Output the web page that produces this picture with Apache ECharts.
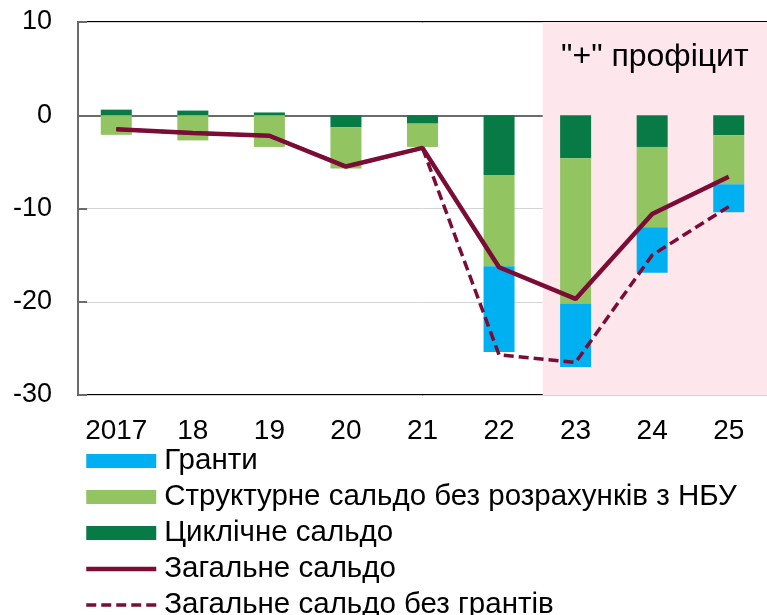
<!DOCTYPE html>
<html>
	<head>
		<meta charset="utf-8">
		<title>Сальдо бюджету</title>
		<script src="https://cdn.jsdelivr.net/npm/echarts@6/dist/echarts.min.js"></script>
	</head>
	<style type="text/css">
		body { margin: 0; background: #fff; }
		#main { width: 767px; height: 615px; }
	</style>
	<body>
		<div id="main"></div>
		<script type="text/javascript">
			// дані
			var years = ['2017', '18', '19', '20', '21', '22', '23', '24', '25'];
			var grants = [0, 0, 0, 0, 0, -9.2, -6.8, -4.9, -3.0];
			var structural = [-2.1, -2.7, -3.4, -4.4, -2.5, -9.8, -15.6, -8.6, -5.25];
			var cyclical = [0.6, 0.5, 0.3, -1.3, -0.9, -6.4, -4.6, -3.4, -2.15];
			var total = [-1.5, -1.9, -2.2, -5.5, -3.5, -16.3, -19.7, -10.6, -6.6];
			var totalNoGrants = [-1.5, -1.9, -2.2, -5.5, -3.5, -25.7, -26.5, -15.0, -9.8];
			var yTicks = [-30, -20, -10, 0, 10];
			var forecastStart = 5.57; // межа рожевої зони (в одиницях категорій)

			var font = 'Liberation Sans, Arial, sans-serif';
			var lineColor = '#7a0c36';
			var solidStyle = { color: lineColor, width: 4.5 };
			var dashedStyle = { color: lineColor, width: 3.5, type: [10, 5] };
			var myChart = echarts.init(document.getElementById('main'));

			myChart.setOption({
				animation: false,
				textStyle: { fontFamily: font },
				grid: {
					left: 78, top: 22, right: -2, bottom: 220,
					show: true, borderColor: '#000', borderWidth: 2
				},
				legend: {
					orient: 'vertical',
					left: 84, top: 446, height: 200, padding: 0,
					itemWidth: 70, itemHeight: 14, itemGap: 6,
					textStyle: { fontSize: 29.5, lineHeight: 29, color: '#000', fontFamily: font, padding: [0, 0, 0, 3] },
					data: [
						{ name: 'Гранти', icon: 'rect' },
						{ name: 'Структурне сальдо без розрахунків з НБУ', icon: 'rect' },
						{ name: 'Циклічне сальдо', icon: 'rect' },
						{ name: 'Загальне сальдо', itemStyle: { opacity: 0 }, lineStyle: solidStyle },
						{ name: 'Загальне сальдо без грантів', itemStyle: { opacity: 0 }, lineStyle: dashedStyle }
					]
				},
				xAxis: [{
					type: 'category',
					data: years,
					axisLine: { onZero: true, lineStyle: { color: '#6b6b6b', width: 2 } },
					axisTick: { inside: true, length: 7, lineStyle: { color: '#6b6b6b', width: 2 } },
					axisLabel: { show: false }
				}, {
					type: 'category',
					data: years,
					position: 'bottom',
					axisLine: { show: false },
					axisTick: { show: false },
					axisLabel: { fontSize: 28, color: '#000', margin: 22, interval: 0, fontFamily: font }
				}, {
					type: 'value',
					min: -0.5, max: 8.5,
					show: false
				}],
				yAxis: {
					type: 'value',
					min: yTicks[0], max: yTicks[yTicks.length - 1], interval: 10,
					axisLine: { show: true, onZero: false, lineStyle: { color: '#6b6b6b', width: 2 } },
					axisTick: { show: true, inside: true, length: 9, lineStyle: { color: '#6b6b6b', width: 2 } },
					axisLabel: { fontSize: 27, color: '#000', margin: 26, fontFamily: font },
					splitLine: { show: true, lineStyle: { color: '#d4d4d4', width: 1 } }
				},
				series: [{
					// рожева зона прогнозу
					type: 'line',
					xAxisIndex: 2,
					data: [],
					z: -1,
					silent: true,
					markArea: {
						silent: true,
						itemStyle: { color: '#fde6ec' },
						label: {
							show: true, position: 'insideTop', distance: 19,
							formatter: '"+" профіцит',
							fontSize: 32, color: '#000', fontFamily: font
						},
						data: [[{ xAxis: forecastStart, yAxis: 10 }, { xAxis: 8.5, yAxis: -30 }]]
					}
				}, {
					name: 'Циклічне сальдо',
					type: 'bar', stack: 'b', barWidth: 31,
					itemStyle: { color: '#077a45' },
					data: cyclical
				}, {
					name: 'Структурне сальдо без розрахунків з НБУ',
					type: 'bar', stack: 'b', barWidth: 31,
					itemStyle: { color: '#92c462' },
					data: structural
				}, {
					name: 'Гранти',
					type: 'bar', stack: 'b', barWidth: 31,
					itemStyle: { color: '#00b0f0' },
					data: grants
				}, {
					name: 'Загальне сальдо без грантів',
					type: 'line', symbol: 'none', z: 4,
					lineStyle: dashedStyle,
					itemStyle: { color: lineColor },
					data: totalNoGrants
				}, {
					name: 'Загальне сальдо',
					type: 'line', symbol: 'none', z: 5,
					lineStyle: solidStyle,
					itemStyle: { color: lineColor },
					data: total
				}]
			});
		</script>
	</body>
</html>
